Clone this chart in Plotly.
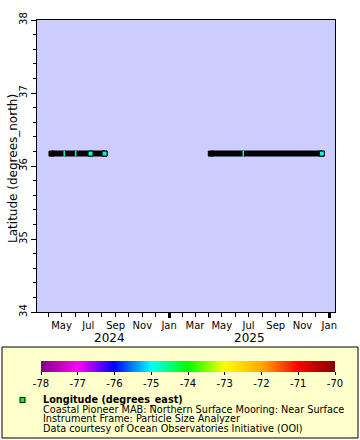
import plotly.graph_objects as go

# ---------------- data ----------------
lat_value = 36.17
lon_value = -74.84

segment_starts = ["2024-04-08", "2025-04-06"]
segment_ends = ["2024-08-07", "2025-12-15"]

square_dates = ["2024-07-06", "2024-08-07", "2025-12-15"]
sliver_dates = ["2024-05-07", "2024-06-02", "2025-06-19"]

month_ticks = ["2024-04-01", "2024-05-01", "2024-06-01", "2024-07-01", "2024-08-01",
               "2024-09-01", "2024-10-01", "2024-11-01", "2024-12-01", "2025-01-01",
               "2025-02-01", "2025-03-01", "2025-04-01", "2025-05-01", "2025-06-01",
               "2025-07-01", "2025-08-01", "2025-09-01", "2025-10-01", "2025-11-01",
               "2025-12-01", "2026-01-01"]
month_labels = ["", "May", "", "Jul", "", "Sep", "", "Nov", "", "Jan", "", "Mar",
                "", "May", "", "Jul", "", "Sep", "", "Nov", "", "Jan"]
jan_ticks = ["2025-01-01", "2026-01-01"]
year_labels = ["2024", "2025"]
year_positions = ["2024-08-19", "2025-07-04"]

cbar_ticks = [-78, -77, -76, -75, -74, -73, -72, -71, -70]

rainbow = [[0.0, "#800080"], [0.125, "#ff00ff"], [0.25, "#0000ff"], [0.375, "#00ffff"],
           [0.5, "#00ff00"], [0.625, "#ffff00"], [0.75, "#ffaa00"], [0.875, "#ff0000"],
           [1.0, "#800000"]]

legend_lines = ["<b>Longitude (degrees_east)</b>",
                "Coastal Pioneer MAB: Northern Surface Mooring: Near Surface",
                "Instrument Frame: Particle Size Analyzer",
                "Data courtesy of Ocean Observatories Initiative (OOI)"]

FONT = "DejaVu Sans"

# ---------------- geometry helpers ----------------
W, H = 360, 440
ML, MR, MT, MB = 37, 25, 20, 128
PW, PH = W - ML - MR, H - MT - MB


def px_x(p):
    return (p - ML) / PW


def px_y(p):
    return (H - MB - p) / PH


fig = go.Figure()

# black bars of dense observations
bx, by = [], []
for s, e in zip(segment_starts, segment_ends):
    bx += [s, e, None]
    by += [lat_value, lat_value, None]
fig.add_trace(go.Scatter(
    x=bx, y=by, mode="lines+markers",
    line=dict(color="black", width=6),
    marker=dict(symbol="square", size=5, color="black", line=dict(color="black", width=1)),
    showlegend=False, hoverinfo="skip"))

# thin visible slivers
fig.add_trace(go.Scatter(
    x=sliver_dates, y=[lat_value] * len(sliver_dates), mode="markers",
    marker=dict(symbol="line-ns", size=4,
                line=dict(color=[lon_value] * len(sliver_dates), colorscale=rainbow,
                          cmin=-78, cmax=-70, width=1.5)),
    showlegend=False, hoverinfo="skip"))

# visible square markers + colorbar
fig.add_trace(go.Scatter(
    x=square_dates, y=[lat_value] * len(square_dates), mode="markers",
    marker=dict(symbol="square", size=5, color=[lon_value] * len(square_dates),
                colorscale=rainbow, cmin=-78, cmax=-70,
                line=dict(color="black", width=1),
                showscale=True,
                colorbar=dict(orientation="h", x=px_x(41), xanchor="left",
                              y=px_y(361), yanchor="top",
                              len=(335 - 41) / PW, lenmode="fraction",
                              thickness=11, thicknessmode="pixels",
                              outlinewidth=0, xpad=0, ypad=0,
                              tickmode="array", tickvals=cbar_ticks,
                              ticktext=[str(t) for t in cbar_ticks],
                              ticks="outside", ticklen=3, tickcolor="black",
                              tickfont=dict(family=FONT, size=10, color="black"))),
    showlegend=False, hoverinfo="skip"))

# overlay axis for bold Jan ticks
fig.add_trace(go.Scatter(x=[jan_ticks[0]], y=[None], xaxis="x2", showlegend=False,
                         hoverinfo="skip"))

fig.update_layout(
    width=W, height=H,
    margin=dict(l=ML, r=MR, t=MT, b=MB, pad=0),
    paper_bgcolor="white", plot_bgcolor="#ccccff",
    font=dict(family=FONT, size=10, color="black"),
    xaxis=dict(type="date", range=["2024-03-06", "2026-01-14"],
               tickmode="array", tickvals=month_ticks, ticktext=month_labels,
               ticks="outside", ticklen=4, tickwidth=1, tickcolor="black",
               showline=True, linecolor="black", linewidth=1, mirror=True,
               showgrid=False, zeroline=False,
               tickfont=dict(family=FONT, size=10, color="black")),
    xaxis2=dict(type="date", range=["2024-03-06", "2026-01-14"], overlaying="x",
                side="bottom", tickmode="array", tickvals=jan_ticks,
                ticks="outside", ticklen=5, tickwidth=2.5, tickcolor="black",
                showticklabels=False, showgrid=False, zeroline=False, showline=False),
    yaxis=dict(range=[34, 38], tickmode="array", tickvals=[34, 35, 36, 37, 38],
               tickangle=-90, ticks="outside", ticklen=5, tickcolor="black",
               minor=dict(dtick=0.2, tick0=34, ticks="outside", ticklen=3,
                          tickcolor="black", showgrid=False),
               showline=True, linecolor="black", linewidth=1, mirror=True,
               showgrid=False, zeroline=False,
               tickfont=dict(family=FONT, size=10, color="black")),
)

annotations = []
annotations.append(dict(text="Latitude (degrees_north)", textangle=-90,
                        xref="paper", yref="paper", x=px_x(13), y=0.49,
                        xanchor="center", yanchor="middle", showarrow=False,
                        font=dict(family=FONT, size=12, color="black")))
for lab, pos in zip(year_labels, year_positions):
    annotations.append(dict(text=lab, xref="x", yref="paper", x=pos, y=px_y(337.5),
                            xanchor="center", yanchor="middle", showarrow=False,
                            font=dict(family=FONT, size=12, color="black")))
line_ys = [399.8, 409.3, 418.8, 428.3]
for txt, yy in zip(legend_lines, line_ys):
    annotations.append(dict(text=txt, xref="paper", yref="paper", x=px_x(41.5),
                            y=px_y(yy), xanchor="left", yanchor="middle",
                            showarrow=False, borderpad=0,
                            font=dict(family=FONT, size=9.7, color="black")))
fig.update_layout(annotations=annotations)

fig.update_layout(shapes=[
    dict(type="rect", xref="paper", yref="paper", layer="below",
         x0=px_x(2), x1=px_x(358), y0=px_y(347), y1=px_y(438),
         fillcolor="#ffffcc", line=dict(color="black", width=1)),
    dict(type="rect", xref="paper", yref="paper",
         x0=px_x(20), x1=px_x(25), y0=px_y(397.5), y1=px_y(402.5),
         fillcolor="#00ff00", line=dict(color="black", width=1)),
])

fig.write_html("out.html",
               config={"displayModeBar": False},
               post_script="document.body.style.margin='0px';"
                           "document.body.style.overflow='hidden';")
